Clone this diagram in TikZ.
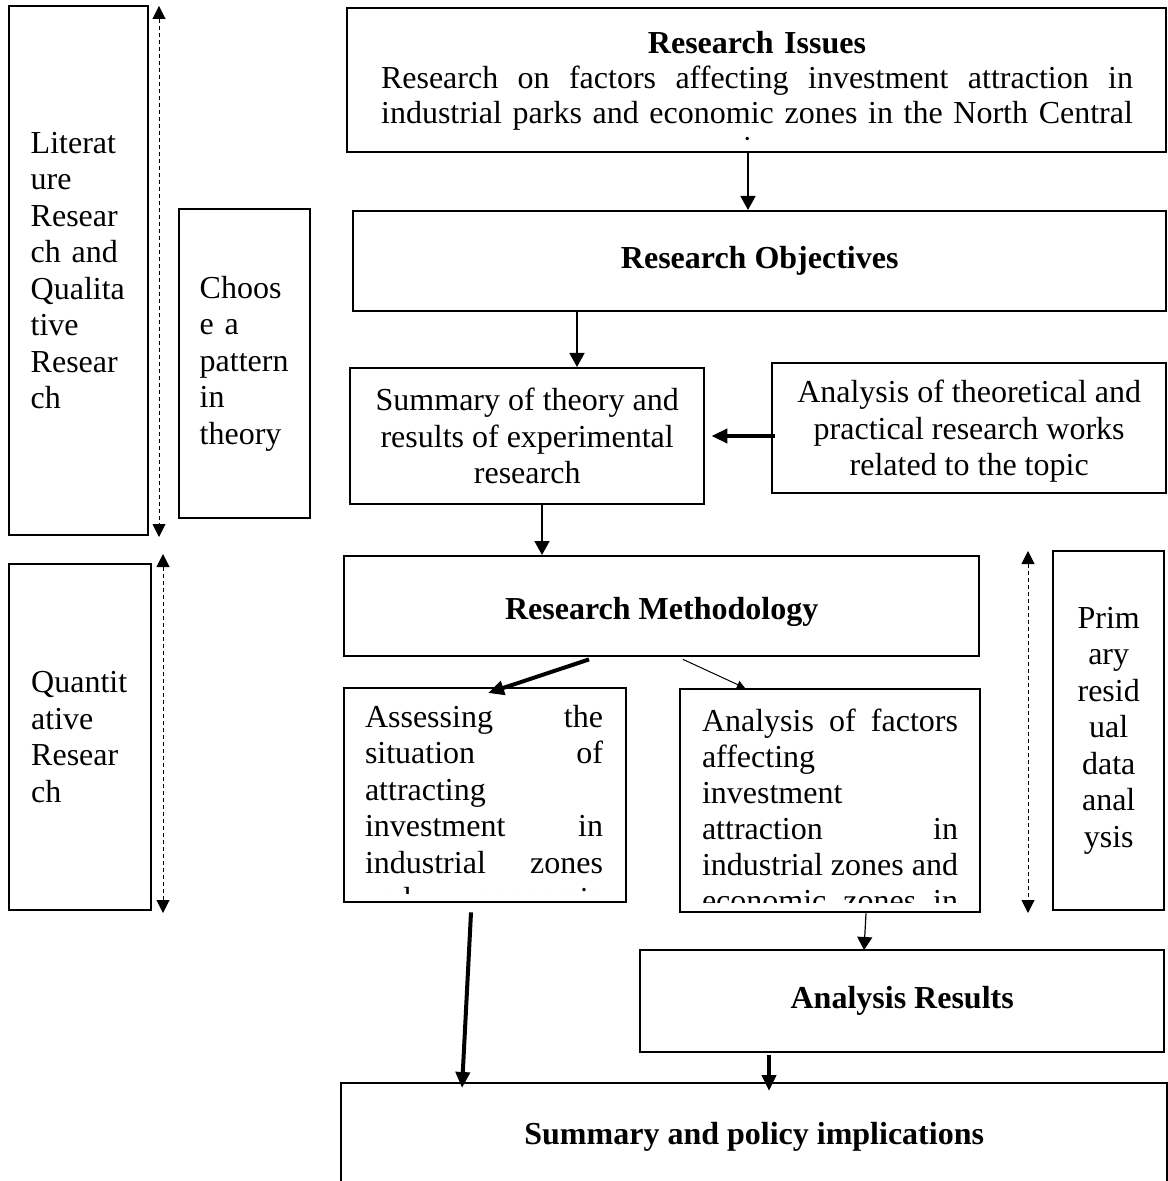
\documentclass[tikz,border=0pt]{standalone}
\usepackage{fontspec}
\setmainfont{Liberation Serif}
\usetikzlibrary{arrows.meta,calc}
\newcommand\jf{\hskip 0pt plus 1filll\relax}
\begin{document}
\begin{tikzpicture}[x=0.5pt,y=-0.5pt,
  box/.style={draw, line width=1.2pt, inner sep=0pt, anchor=north west},
  txt/.style={font=\fontsize{16}{18.25}\selectfont},
  btxt/.style={font=\fontsize{16}{18.25}\selectfont\bfseries},
  arr/.style={line width=0.75pt, -{Triangle[length=7pt,width=7.5pt]}},
  fatarr/.style={line width=2pt, -{Triangle[length=8pt,width=7pt]}},
  thinarr/.style={line width=0.5pt, -{Triangle[length=4pt,width=4pt]}},
  dasharr/.style={line width=0.5pt, dash pattern=on 2pt off 1.5pt, {Triangle[length=6.5pt,width=6.5pt]}-{Triangle[length=6.5pt,width=6.5pt]}}
]
\useasboundingbox (0,0) rectangle (1167,1181);

% left column
\node[box, txt, minimum width=69.5pt, minimum height=264.5pt, text width=48pt, align=left] (lit) at (8,5)
  {Literat\\ ure\\ Resear\\ ch and\\ Qualita\\ tive\\ Resear\\ ch};
\node[box, txt, minimum width=65.5pt, minimum height=154.5pt, text width=45pt, align=left] (choose) at (178,208)
  {Choos\\ e a\\ pattern\\ in\\ theory};
\node[box, txt, minimum width=71pt, minimum height=173pt, text width=49pt, align=left] (quant) at (8,563)
  {Quantit\\ ative\\ Resear\\ ch};

\coordinate (d1t) at (159,6);   \coordinate (d1b) at (159,537);
\coordinate (d2t) at (163,554); \coordinate (d2b) at (163,913);
\coordinate (d3t) at (1028,551); \coordinate (d3b) at (1028,913);
\draw[dasharr] (d1t) -- (d1b);
\draw[dasharr] (d2t) -- (d2b);
\draw[dasharr] (d3t) -- (d3b);

% main column
\node[box, minimum width=409.5pt, minimum height=72pt] (issues) at (346,7) {};
\begin{scope}
  \clip (347,8) rectangle (1164,141);
  \node[anchor=north, font=\fontsize{16}{17.5}\selectfont, text width=376pt, align=center, inner sep=0pt] (issuestxt) at (757,28.5)
    {\strut\textbf{Research Issues}\\ Research\jf on\jf factors\jf affecting\jf investment\jf attraction\jf in\\ industrial parks and economic zones in the North Central\\ \hspace*{-10pt}region.};
\end{scope}

\node[box, btxt, minimum width=406.5pt, minimum height=50pt] (obj) at (352,210) {Research Objectives};

\node[box, txt, minimum width=177pt, minimum height=68pt, align=center] (sumth) at (349,367)
  {Summary of theory and\\ results of experimental\\ research};
\node[box, minimum width=197pt, minimum height=65pt] (anth) at (771,362) {};
\node[txt, align=center, inner sep=0pt] (anthtxt) at ($(anth.center)+(0,3)$)
  {Analysis of theoretical and\\ practical research works\\ related to the topic};

\node[box, minimum width=317.5pt, minimum height=50pt] (meth) at (343,555) {};
\node[btxt, inner sep=0pt] (methtxt) at ($(meth.center)+(0,6)$) {Research Methodology};

\node[box, minimum width=141pt, minimum height=107pt] (assess) at (343,687) {};
\begin{scope}
  \clip (344,688) rectangle (624,893);
  \node[anchor=north, txt, text width=119pt, align=left, inner sep=0pt] (assesstxt) at (484,701.5)
    {\strut Assessing\jf the\\ situation\jf of\\ attracting\\ investment\jf in\\ industrial\jf zones\\ and\jf economic};
\end{scope}

\node[box, minimum width=150pt, minimum height=111.5pt] (factors) at (679,688) {};
\begin{scope}
  \clip (680,689) rectangle (978,902);
  \node[anchor=north, font=\fontsize{16}{18}\selectfont, text width=128pt, align=left, inner sep=0pt] (factorstxt) at (830,706)
    {\strut Analysis\jf of\jf factors\\ affecting\\ investment\\ attraction\jf in\\ industrial\jf zones\jf and\\ economic\jf zones\jf in};
\end{scope}

\node[box, txt, minimum width=55.5pt, minimum height=179.5pt, align=center] (primary) at (1052,550)
  {Prim\\ ary\\ resid\\ ual\\ data\\ anal\\ ysis};

\node[box, btxt, minimum width=262pt, minimum height=51pt] (results) at (639,949) {Analysis Results};
\node[box, btxt, minimum width=413pt, minimum height=54pt] (policy) at (340,1082) {Summary and policy implications};

% connectors
\draw[arr] ($(issues.south west)+(402,0)$) -- ($(obj.north west)+(396,0)$);
\draw[arr] ($(obj.south west)+(225,0)$) -- ($(sumth.north west)+(228,0)$);
\draw[fatarr] ($(anth.north west)+(4,74)$) -- ($(sumth.north east)+(6,69)$);
\draw[arr] ($(sumth.south west)+(193,0)$) -- ($(meth.north west)+(199,0)$);
\draw[fatarr] ($(meth.south west)+(246,2)$) -- ($(assess.north west)+(145,6)$);
\draw[thinarr] ($(meth.south west)+(340,2)$) -- ($(factors.north west)+(66,0)$);
\draw[line width=0.6pt, -{Triangle[length=6.5pt,width=7.5pt]}] ($(factors.south west)+(187,0)$) -- ($(results.north west)+(225,1)$);
\draw[fatarr] ($(assess.south west)+(128,9)$) -- ($(policy.north west)+(122,6)$);
\draw[fatarr] ($(results.south west)+(130,2)$) -- ($(policy.north west)+(429,9)$);
\end{tikzpicture}
\end{document}
